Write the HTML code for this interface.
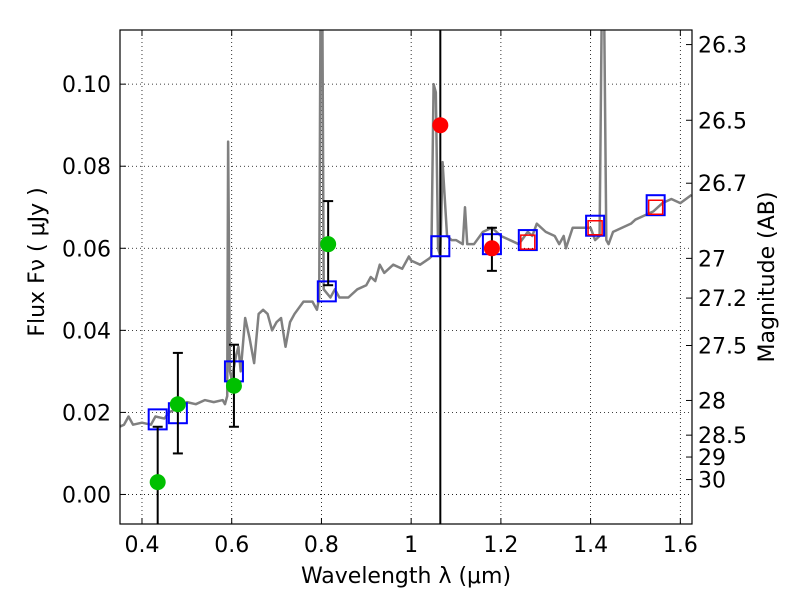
<!DOCTYPE html>
<html><head><meta charset="utf-8"><style>
body{margin:0;background:#fff;}
svg text{font-family:"DejaVu Sans","Liberation Sans",sans-serif;font-size:22px;fill:#000;}
</style></head><body>
<svg id="chart" width="800" height="600" xmlns="http://www.w3.org/2000/svg"></svg>
<script>
const specWl=[0.35,0.36,0.37,0.38,0.40,0.42,0.43,0.45,0.46,0.48,0.50,0.52,0.54,0.56,0.58,0.585,0.59,0.592,0.596,0.60,0.61,0.615,0.62,0.63,0.64,0.65,0.66,0.67,0.68,0.69,0.70,0.71,0.72,0.73,0.74,0.76,0.78,0.79,0.795,0.798,0.802,0.805,0.82,0.83,0.84,0.86,0.88,0.90,0.91,0.92,0.93,0.94,0.96,0.98,0.995,1.0,1.02,1.04,1.045,1.05,1.055,1.06,1.065,1.07,1.08,1.09,1.10,1.115,1.12,1.125,1.14,1.16,1.18,1.20,1.22,1.24,1.26,1.27,1.28,1.30,1.32,1.33,1.34,1.345,1.36,1.38,1.40,1.41,1.42,1.425,1.43,1.435,1.44,1.45,1.47,1.49,1.50,1.52,1.54,1.56,1.58,1.60,1.625];
const specFlux=[0.0165,0.017,0.019,0.017,0.0175,0.017,0.019,0.0185,0.020,0.021,0.0225,0.022,0.023,0.0225,0.023,0.022,0.024,0.086,0.030,0.028,0.034,0.036,0.030,0.043,0.038,0.032,0.044,0.045,0.044,0.040,0.042,0.043,0.036,0.042,0.044,0.047,0.047,0.045,0.048,0.12,0.12,0.050,0.048,0.050,0.048,0.048,0.050,0.051,0.053,0.052,0.056,0.054,0.056,0.055,0.058,0.057,0.056,0.0575,0.058,0.100,0.098,0.060,0.058,0.081,0.063,0.062,0.062,0.061,0.070,0.061,0.061,0.064,0.065,0.063,0.062,0.061,0.064,0.063,0.066,0.064,0.063,0.061,0.063,0.060,0.065,0.065,0.065,0.062,0.063,0.12,0.12,0.062,0.061,0.064,0.065,0.066,0.067,0.068,0.069,0.071,0.072,0.071,0.073];
const greenWl=[0.435,0.48,0.605,0.815];
const greenFlux=[0.003,0.022,0.0265,0.061];
const greenLo=[-0.01,0.010,0.0165,0.051];
const greenHi=[0.0165,0.0345,0.0365,0.0715];
const redWl=[1.065,1.18];
const redFlux=[0.090,0.060];
const redLo=[null,0.0545];
const redHi=[null,0.065];
const blueWl=[0.435,0.48,0.605,0.812,1.065,1.18,1.26,1.41,1.545];
const blueFlux=[0.0183,0.0198,0.030,0.0495,0.0605,0.061,0.062,0.0655,0.0705];
const redSqWl=[1.26,1.41,1.545];
const redSqFlux=[0.0615,0.065,0.070];
const xTicks=[0.4,0.6,0.8,1.0,1.2,1.4,1.6];
const xTickLabels=["0.4","0.6","0.8","1","1.2","1.4","1.6"];
const yTicks=[0,0.02,0.04,0.06,0.08,0.10];
const yTickLabels=["0.00","0.02","0.04","0.06","0.08","0.10"];
const magTicks=[26.3,26.5,26.7,27,27.2,27.5,28,28.5,29,30];
const magLabels=["26.3","26.5","26.7","27","27.2","27.5","28","28.5","29","30"];
const vLineWl=1.065;

const L=120,R=692,T=30,B=524;
const X0=0.351,X1=1.626,Y0=-0.0072,Y1=0.1132;
const sx=v=>L+(v-X0)/(X1-X0)*(R-L);
const sy=v=>B-(v-Y0)/(Y1-Y0)*(B-T);
const svg=document.getElementById('chart');
const NS='http://www.w3.org/2000/svg';
function mk(tag,attrs,parent){const e=document.createElementNS(NS,tag);for(const k in attrs)e.setAttribute(k,attrs[k]);(parent||svg).appendChild(e);return e;}
const defs=mk('defs',{});const cp=mk('clipPath',{id:'pc'},defs);mk('rect',{x:L,y:T,width:R-L,height:B-T},cp);
const grid=mk('g',{});


xTicks.forEach((t,i)=>{const x=sx(t);
 mk('line',{x1:x,x2:x,y1:T,y2:B,stroke:'#000','stroke-width':0.8,'stroke-dasharray':'1,3'},grid);
 mk('line',{x1:x,x2:x,y1:B,y2:B-6,stroke:'#000'});mk('line',{x1:x,x2:x,y1:T,y2:T+6,stroke:'#000'});
 const tx=mk('text',{x:x,y:B+28,'text-anchor':'middle'});tx.textContent=xTickLabels[i];
 
 
});
yTicks.forEach((t,i)=>{const y=sy(t);
 mk('line',{x1:L,x2:R,y1:y,y2:y,stroke:'#000','stroke-width':0.8,'stroke-dasharray':'1,3'},grid);
 mk('line',{x1:L,x2:L+6,y1:y,y2:y,stroke:'#000'});
 const tx=mk('text',{x:L-9,y:y+8,'text-anchor':'end'});tx.textContent=yTickLabels[i];
 
 
});
magTicks.forEach((m,i)=>{const f=Math.pow(10,(23.9-m)/2.5);const y=sy(f);
 mk('line',{x1:R,x2:R-6,y1:y,y2:y,stroke:'#000'});
 const tx=mk('text',{x:R+6,y:y+8,'text-anchor':'start'});tx.textContent=magLabels[i];
 
 
});
const plot=mk('g',{'clip-path':'url(#pc)'});
const sp=mk('polyline',{points:specWl.map((w,i)=>sx(w)+','+sy(specFlux[i])).join(' '),fill:'none',stroke:'#808080','stroke-width':2.5,'stroke-linejoin':'round'},plot);


const vl=mk('line',{x1:sx(vLineWl),x2:sx(vLineWl),y1:T,y2:B,stroke:'#000','stroke-width':2},plot);


blueWl.forEach((w,i)=>{const r=mk('rect',{x:sx(w)-9,y:sy(blueFlux[i])-10,width:18,height:20,fill:'none',stroke:'#0000ff','stroke-width':2},plot);
 
 });
redSqWl.forEach((w,i)=>{const r=mk('rect',{x:sx(w)-7,y:sy(redSqFlux[i])-7,width:14,height:14,fill:'none',stroke:'#ff0000','stroke-width':1.5},plot);
 
 });
function errbar(w,lo,hi){const x=sx(w);
 mk('line',{x1:x,x2:x,y1:sy(lo),y2:sy(hi),stroke:'#000','stroke-width':2},plot);
 mk('line',{x1:x-5,x2:x+5,y1:sy(lo),y2:sy(lo),stroke:'#000','stroke-width':2},plot);
 mk('line',{x1:x-5,x2:x+5,y1:sy(hi),y2:sy(hi),stroke:'#000','stroke-width':2},plot);}
greenWl.forEach((w,i)=>{errbar(w,greenLo[i],greenHi[i]);const c=mk('circle',{cx:sx(w),cy:sy(greenFlux[i]),r:8,fill:'#00c000'},plot);
 
 });
redWl.forEach((w,i)=>{if(redLo[i]!==null)errbar(w,redLo[i],redHi[i]);const c=mk('circle',{cx:sx(w),cy:sy(redFlux[i]),r:8,fill:'#ff0000'},plot);
 
 });
const fr=mk('rect',{x:L,y:T,width:R-L,height:B-T,fill:'none',stroke:'#000','stroke-width':1.2});


const xt=mk('text',{x:406,y:583,'text-anchor':'middle'});xt.textContent='Wavelength  λ (μm)';


const yt=mk('text',{x:44,y:262,'text-anchor':'middle',transform:'rotate(-90 44 262)'});yt.textContent='Flux  Fν  ( μJy )';


const rt=mk('text',{x:774,y:277,'text-anchor':'middle',transform:'rotate(-90 774 277)'});rt.textContent='Magnitude (AB)';


</script>
</body></html>
